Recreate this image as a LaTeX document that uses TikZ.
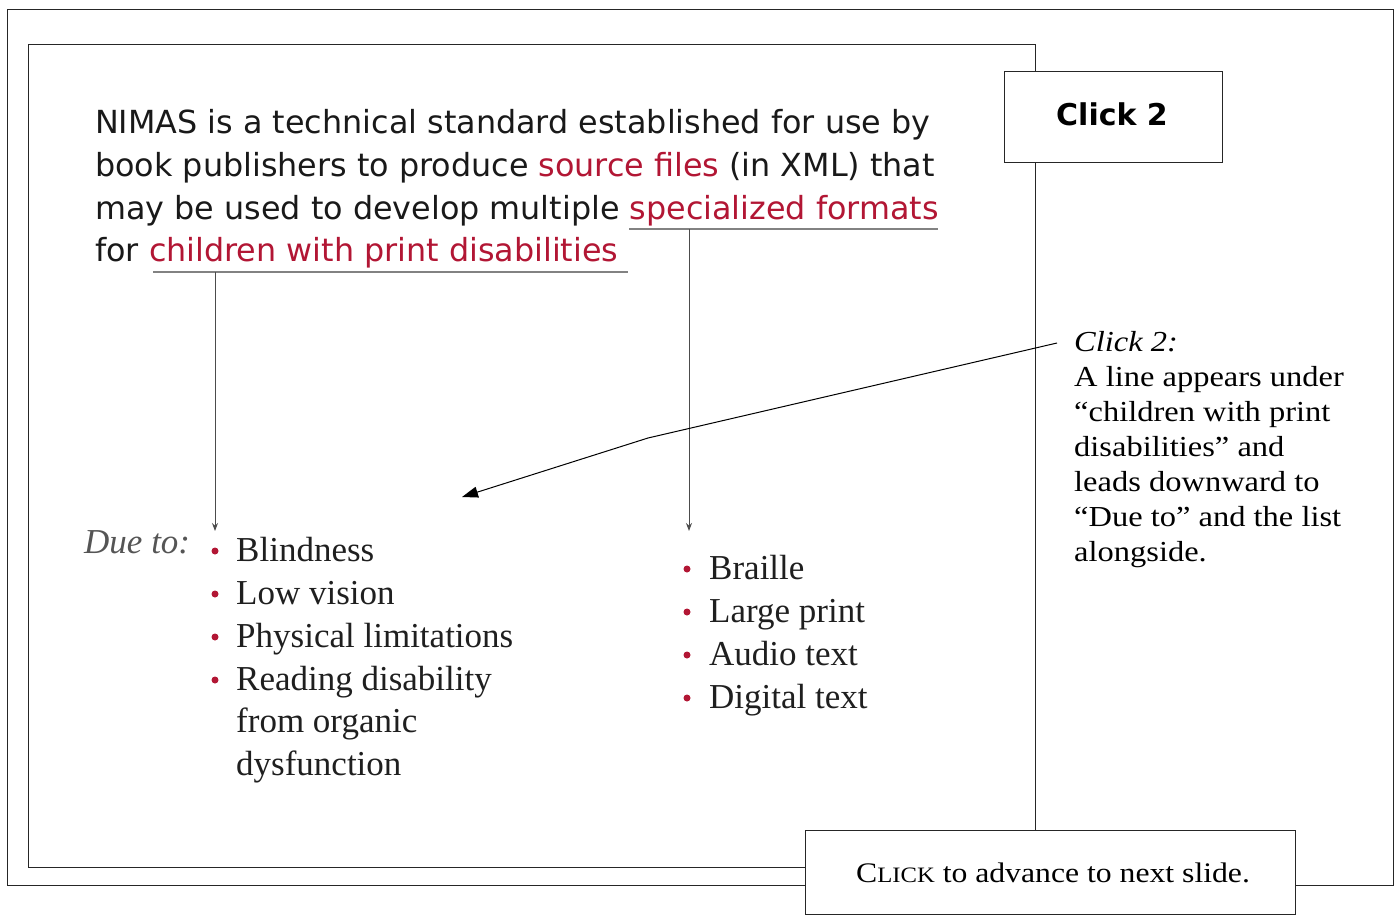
\documentclass[tikz,border=0pt]{standalone}
\usepackage{fontspec}
\setmainfont{Liberation Serif}
\newfontfamily\tah{DejaVu Sans}
\newfontfamily\notefont[FakeStretch=1.12]{Liberation Serif}
\newfontfamily\boldsans{DejaVu Sans}
\usetikzlibrary{arrows.meta}
\definecolor{nimred}{RGB}{178,22,52}
\definecolor{ulgray}{RGB}{130,130,130}
\definecolor{duegray}{RGB}{85,85,85}
\tikzset{
  frame/.style={draw=black!85, line width=0.9pt},
  maintxt/.style={anchor=base west, inner sep=0pt, font=\tah\fontsize{31.8}{37}\selectfont, text=black!90},
  listtxt/.style={anchor=base west, inner sep=0pt, font=\fontsize{35}{40}\selectfont, text=black!88},
  bul/.style={circle, fill=nimred, inner sep=0pt, minimum size=7pt},
  notetxt/.style={anchor=base west, inner sep=0pt, font=\notefont\fontsize{29}{35}\selectfont},
  uline/.style={draw=ulgray, line width=1.2pt},
  vline/.style={draw=black!70, line width=1pt, -{Stealth[length=8pt,width=6pt]}},
}
\begin{document}
\begin{tikzpicture}[x=1pt,y=-1pt]
\useasboundingbox (0,0) rectangle (1399,915);
% frames
\draw[frame] (7,9) rectangle (1393,885);
\draw[frame] (28,44) rectangle (1035,867);
\node[frame, fill=white, minimum width=218pt, minimum height=91pt, inner sep=0pt] (click) at (1113,116.5) {};
\node[anchor=base, inner sep=0pt, font=\boldsans\bfseries\fontsize{30}{36}\selectfont] (clicklbl) at (1112,125) {Click 2};
\node[frame, fill=white, minimum width=490pt, minimum height=84pt, inner sep=0pt] (adv) at (1050,872) {};
\node[anchor=base west, inner sep=0pt, font=\notefont\fontsize{28.3}{32}\selectfont] (advlbl) at (856,882) {C{\fontsize{22}{25}\selectfont LICK} to advance to next slide.};
% main text
\node[maintxt] (l1) at (95,133) {NIMAS is a technical standard established for use by};
\node[maintxt] (l2) at (95,176) {book publishers to produce \textcolor{nimred}{source files} (in XML) that};
\node[maintxt] (l3) at (95,219) {may be used to develop multiple \textcolor{nimred}{specialized formats}};
\node[maintxt] (l4) at (95,261) {for \textcolor{nimred}{children with print disabilities}};
% underlines
\coordinate (ua) at (629,229); \coordinate (ub) at (938,229);
\coordinate (uc) at (153,272); \coordinate (ud) at (628,272);
\draw[uline] (ua) -- (ub);
\draw[uline] (uc) -- (ud);
\coordinate (sf) at (689,229); \coordinate (sfend) at (689,531);
\coordinate (cw) at (215,272); \coordinate (cwend) at (215,531);
\draw[vline] (sf) -- (sfend);
\draw[vline] (cw) -- (cwend);
% left list
\node[anchor=base west, inner sep=0pt, font=\itshape\fontsize{35}{40}\selectfont, text=duegray] (due) at (84,553) {Due to:};
\foreach \n/\y/\t in {b1/561/Blindness, b2/604/Low vision, b3/647/Physical limitations, b4/690/Reading disability}{
  \node[bul] (\n dot) at (215,\y-10) {};
  \node[listtxt] (\n) at (236,\y) {\t};
}
\node[listtxt] (b5) at (236,732) {from organic};
\node[listtxt] (b6) at (236,775) {dysfunction};
% right list
\foreach \n/\y/\t in {r1/579/Braille, r2/622/Large print, r3/665/Audio text, r4/708/Digital text}{
  \node[bul] (\n dot) at (687,\y-10) {};
  \node[listtxt] (\n) at (709,\y) {\t};
}
% note
\node[notetxt, font=\notefont\itshape\fontsize{29}{35}\selectfont] (n0) at (1074,351) {Click 2:};
\node[notetxt] (n1) at (1074,386) {A line appears under};
\node[notetxt] (n2) at (1074,421) {“children with print};
\node[notetxt] (n3) at (1074,456) {disabilities” and};
\node[notetxt] (n4) at (1074,491) {leads downward to};
\node[notetxt] (n5) at (1074,526) {“Due to” and the list};
\node[notetxt] (n6) at (1074,561) {alongside.};
% callout arrow
\coordinate (cs) at (1057,343);
\coordinate (cm) at (648,438);
\coordinate (ce) at (462,497);
\draw[black, line width=1pt, -{Triangle[length=16pt,width=11pt]}] (cs) -- (cm) -- (ce);
\end{tikzpicture}
\end{document}
